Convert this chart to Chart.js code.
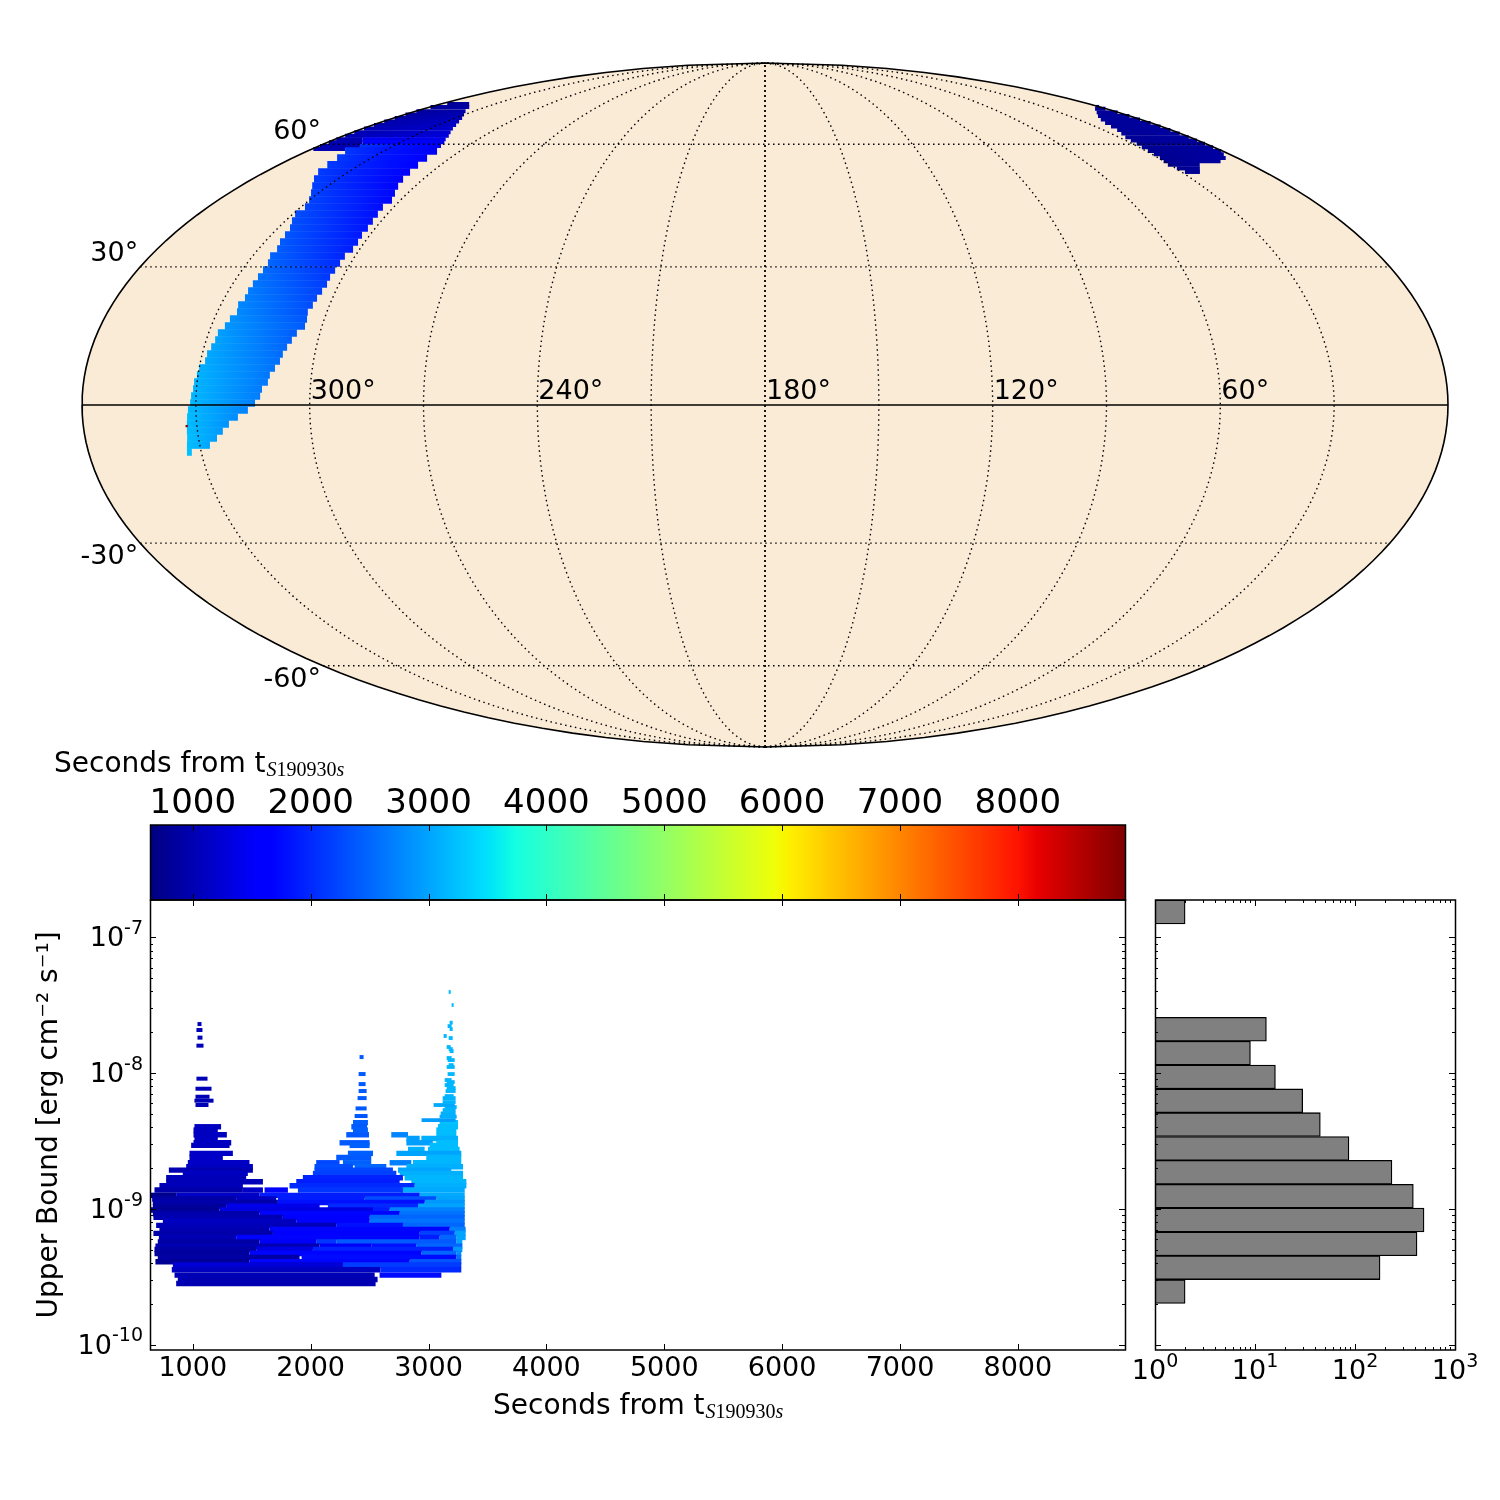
<!DOCTYPE html>
<html>
<head>
<meta charset="utf-8">
<script src="https://cdn.jsdelivr.net/npm/chart.js@4"></script>
<style>
    html, body { margin: 0; padding: 0; background: #fff; width: 1500px; height: 1500px; overflow: hidden; }
</style>
</head>
<body>
<canvas id="mapa" width="1500" height="770" style="position:absolute;left:0px;top:0px"></canvas>
<canvas id="barraCores" width="1500" height="170" style="position:absolute;left:0px;top:740px"></canvas>
<canvas id="dispersao" width="1140" height="640" style="position:absolute;left:0px;top:860px"></canvas>
<canvas id="histograma" width="400" height="640" style="position:absolute;left:1100px;top:860px"></canvas>
<script>
// ---- dados ----
const tempoMin = 637;
const tempoMax = 8909;
const ticksTempo = [1000, 2000, 3000, 4000, 5000, 6000, 7000, 8000];
const decadasFluxo = [-7, -8, -9, -10];
const decadasContagem = [0, 1, 2, 3];
const meridianos = [30, 60, 90, 120, 150, 210, 240, 270, 300, 330];
const paralelos = [-60, -30, 30, 60];
const rotulosLon = [300, 240, 180, 120, 60];
const rotulosLat = [60, 30, -30, -60];

// mancha do ceu: [lat, lon esquerda, lon direita, tempo esquerda, tempo direita]
const faixasOeste = [
    [-10.04, 333.8, 332.5, 3250, 3200], [-8.55, 333.4, 327.3, 3230, 3000], [-7.04, 333.0, 325.1, 3230, 2950],
    [-5.55, 332.8, 323.3, 3220, 2900], [-4.06, 332.6, 321.5, 3200, 2850], [-2.56, 332.4, 319.0, 3200, 2800],
    [-1.07, 332.1, 316.3, 3180, 2730], [0.43, 331.5, 314.4, 3170, 2700], [1.92, 331.3, 313.1, 3160, 2680],
    [3.41, 330.9, 312.7, 3150, 2660], [4.91, 330.8, 311.3, 3140, 2640], [6.40, 330.3, 311.0, 3120, 2620],
    [7.90, 330.0, 309.9, 3100, 2600], [9.40, 328.8, 308.9, 3050, 2560], [10.9, 328.7, 308.5, 3040, 2530],
    [12.41, 328.1, 307.8, 3020, 2500], [13.92, 327.6, 307.0, 3000, 2450], [15.43, 327.5, 306.2, 2960, 2420],
    [16.95, 326.3, 304.6, 2900, 2400], [18.47, 325.7, 304.7, 2860, 2350], [19.99, 324.6, 305.2, 2800, 2300],
    [21.52, 325.2, 304.6, 2780, 2280], [23.07, 324.3, 304.3, 2720, 2240], [24.61, 324.5, 303.8, 2680, 2200],
    [26.16, 324.3, 303.4, 2640, 2150], [27.72, 324.1, 303.6, 2600, 2100], [29.29, 324.0, 303.3, 2550, 2050],
    [30.87, 324.0, 303.1, 2500, 2000], [32.45, 324.9, 303.0, 2480, 1950], [34.06, 324.5, 302.0, 2430, 1900],
    [35.67, 325.4, 302.0, 2400, 1880], [37.29, 325.8, 302.4, 2370, 1850], [38.92, 326.3, 302.3, 2340, 1830],
    [40.57, 327.9, 302.6, 2320, 1800], [42.24, 329.3, 303.0, 2300, 1780], [43.92, 328.7, 303.5, 2250, 1750],
    [45.61, 330.1, 302.8, 2220, 1700], [47.35, 332.5, 304.3, 2200, 1700], [49.09, 335.4, 305.9, 2180, 1680],
    [50.85, 338.4, 307.1, 2170, 1650], [52.63, 340.9, 307.8, 2160, 1620], [54.47, 342.0, 308.4, 2150, 1600],
    [56.30, 343.1, 308.8, 2140, 1550], [58.17, 345.3, 309.1, 2120, 1500]
];
// topo da mancha, linhas mais finas junto a borda
const faixasTopo = [
    [59.5, 343.4, 310.7, 2100, 1500], [60.55, 345.7, 312.0, 1700, 1450], [61.4, 348.5, 313.7, 1450, 1400],
    [58.7, 359.5, 346.9, 1000, 1000], [59.5, 359.5, 343.4, 1000, 1000], [60.55, 359.5, 345.7, 1000, 1000], [61.4, 359.5, 348.5, 1000, 1000],
    [62.4, 359.5, 315.2, 1000, 1300], [63.4, 359.5, 317.4, 1000, 1250], [64.45, 359.5, 319.7, 1000, 1200],
    [65.5, 359.5, 321.8, 950, 1150], [66.55, 359.5, 324.2, 950, 1100], [67.6, 359.5, 326.8, 900, 1050],
    [68.65, 359.5, 330.3, 880, 1000], [69.7, 359.5, 334.2, 860, 950], [71.0, 359.5, 338.7, 850, 900],
    [72.0, 356.4, 344.2, 800, 850]
];
const faixasLeste = [
    [71.05, 2.2, 0.4, 800, 800], [70.47, 5.9, 0.4, 810, 810], [69.33, 11.1, 0.4, 820, 820], [68.2, 15.9, 0.4, 830, 830],
    [67.15, 19.2, 0.4, 830, 840], [66.08, 21.6, 0.4, 830, 840], [65.05, 22.9, 0.4, 820, 850], [64.0, 24.0, 0.4, 820, 850],
    [62.99, 25.7, 0.4, 810, 860], [61.98, 27.3, 0.4, 800, 860], [61.05, 27.9, 0.4, 790, 860], [60.11, 28.3, 0.4, 780, 870],
    [59.15, 29.0, 0.4, 770, 870], [58.17, 29.3, 0.4, 770, 880], [57.25, 29.4, 2.3, 760, 880], [56.30, 29.5, 4.4, 760, 880],
    [55.4, 30.3, 8.9, 760, 870], [54.47, 30.9, 19.1, 760, 800], [53.55, 29.7, 21.3, 770, 790], [52.63, 28.8, 23.4, 770, 780]
];
const pixelIsolado = [332.7, -4.5, 8900];

// tiras do limite superior: [log10 fluxo, inicio, fim, tempo da cor]
const tirasBase = [
    [-9.548, 859, 2551, 1000], [-9.518, 873, 2568, 1000],
    [-9.486, 845, 2543, 1020], [-9.486, 2585, 3109, 1750],
    [-9.447, 822, 2591, 1100], [-9.447, 2591, 3278, 2000],
    [-9.412, 831, 2274, 1250], [-9.412, 2274, 3278, 2150],
    [-9.388, 683, 1481, 800], [-9.388, 1481, 2840, 1700], [-9.388, 2840, 3278, 2350],
    [-9.356, 703, 1906, 900], [-9.356, 1923, 3236, 1750], [-9.356, 3236, 3278, 2600],
    [-9.327, 675, 1481, 850], [-9.327, 1481, 2939, 1700], [-9.327, 2939, 3236, 2500], [-9.327, 3236, 3278, 2800],
    [-9.297, 675, 1538, 900], [-9.297, 1538, 2019, 1350], [-9.297, 2019, 3208, 1950], [-9.297, 3208, 3287, 2900],
    [-9.273, 683, 2076, 1000], [-9.273, 2076, 2514, 1500], [-9.273, 2514, 2896, 1800], [-9.273, 2896, 3287, 2500],
    [-9.241, 703, 1566, 900], [-9.241, 1566, 2047, 1500], [-9.241, 2047, 2217, 2100], [-9.241, 2217, 3236, 2400], [-9.241, 3236, 3287, 3000],
    [-9.209, 712, 1368, 1000], [-9.209, 1368, 2925, 1700], [-9.209, 2925, 3094, 1900], [-9.209, 3094, 3236, 2500], [-9.209, 3236, 3315, 3000],
    [-9.179, 666, 1680, 950], [-9.179, 1680, 2925, 1600], [-9.179, 2925, 3222, 2200], [-9.179, 3222, 3315, 3000],
    [-9.150, 717, 1651, 1000], [-9.150, 1651, 3179, 1700], [-9.150, 3179, 3315, 2700],
    [-9.120, 689, 2217, 1050], [-9.120, 2217, 2783, 1800], [-9.120, 2783, 3307, 2500],
    [-9.091, 746, 1878, 1100], [-9.091, 1878, 2500, 1650], [-9.091, 2500, 3307, 2600],
    [-9.061, 666, 1764, 1000], [-9.061, 1764, 2500, 1600], [-9.061, 2500, 3307, 2500],
    [-9.034, 661, 1566, 950], [-9.034, 1566, 2755, 1700], [-9.034, 2755, 3307, 2600],
    [-9.007, 638, 1227, 800], [-9.007, 1227, 2529, 1350], [-9.007, 2529, 2670, 1900], [-9.007, 2670, 3307, 2700],
    [-8.978, 661, 1283, 850], [-8.978, 1283, 2076, 1400], [-8.978, 2146, 2911, 2000], [-8.978, 2911, 3307, 3000],
    [-8.951, 661, 1722, 950], [-8.951, 1722, 2967, 1800], [-8.951, 2967, 3307, 2900],
    [-8.926, 655, 1368, 900], [-8.926, 1368, 1708, 1100], [-8.926, 1722, 2458, 1900], [-8.926, 2458, 3066, 2300], [-8.926, 3066, 3307, 3000],
    [-8.899, 638, 859, 750], [-8.899, 859, 1566, 1150], [-8.899, 1566, 2925, 1900], [-8.899, 2925, 3307, 3050],
    [-8.860, 675, 1425, 950], [-8.860, 1425, 1595, 1150], [-8.860, 1609, 1807, 1700], [-8.860, 1892, 2783, 2100], [-8.860, 2769, 3307, 3050],
    [-8.828, 717, 1425, 1050], [-8.828, 1821, 2882, 2000], [-8.828, 2882, 3321, 3100],
    [-8.799, 774, 1595, 1050], [-8.799, 1878, 2755, 1900], [-8.799, 2854, 3321, 3150],
    [-8.769, 774, 1453, 1050], [-8.769, 1934, 2783, 1950], [-8.769, 2797, 3293, 3150],
    [-8.737, 915, 1467, 1100], [-8.737, 2019, 2727, 2200], [-8.737, 2755, 3293, 3100],
    [-8.713, 797, 1510, 1000], [-8.713, 2033, 2698, 2250], [-8.713, 2741, 3193, 3000],
    [-8.688, 944, 1510, 1100], [-8.688, 2033, 2359, 2300], [-8.688, 2373, 2642, 2500], [-8.688, 2812, 3293, 3100],
    [-8.659, 958, 1481, 1150], [-8.659, 2047, 2245, 2250], [-8.659, 2274, 2514, 2450], [-8.659, 2670, 2854, 2700], [-8.659, 2868, 3278, 3150],
    [-8.620, 972, 1255, 1150], [-8.620, 2217, 2514, 2400], [-8.620, 2981, 3278, 3150],
    [-8.590, 972, 1340, 1150], [-8.590, 2316, 2529, 2450], [-8.590, 2727, 3278, 3000],
    [-8.561, 2826, 2967, 3100], [-8.561, 2995, 3264, 3200],
    [-8.531, 986, 1312, 1100], [-8.531, 2330, 2500, 2450], [-8.531, 3010, 3250, 3200],
    [-8.512, 1006, 1326, 1100], [-8.512, 2245, 2500, 2400], [-8.512, 2812, 3036, 2950], [-8.512, 3066, 3250, 3200],
    [-8.480, 1014, 1212, 1100], [-8.480, 2812, 2925, 2950], [-8.480, 2939, 3250, 3100],
    [-8.453, 1006, 1289, 1100], [-8.453, 2302, 2495, 2400], [-8.453, 2684, 2826, 2750], [-8.453, 3066, 3236, 3200],
    [-8.418, 1006, 1212, 1100], [-8.418, 2359, 2486, 2450], [-8.418, 3066, 3236, 3200],
    [-8.394, 1014, 1240, 1100], [-8.394, 2345, 2478, 2400], [-8.394, 3080, 3250, 3200],
    [-8.364, 2359, 2486, 2450], [-8.364, 3094, 3250, 3250]
];
// picos: [log10 fluxo, inicio, fim], a cor segue o inicio
const picoInicial = [
    [-7.638, 1040, 1074], [-7.682, 1031, 1082], [-7.738, 1040, 1082], [-7.797, 1031, 1091],
    [-8.040, 1031, 1125], [-8.114, 1023, 1159], [-8.173, 1023, 1142], [-8.202, 1014, 1176], [-8.234, 1023, 1133]
];
const picoMeio = [
    [-7.881, 2415, 2449], [-8.006, 2407, 2466], [-8.080, 2407, 2466], [-8.131, 2407, 2475],
    [-8.183, 2398, 2475], [-8.259, 2381, 2475], [-8.315, 2373, 2483]
];
const picoFinal = [
    [-7.402, 3171, 3188], [-7.498, 3196, 3213], [-7.628, 3179, 3205], [-7.653, 3162, 3196], [-7.675, 3179, 3205],
    [-7.726, 3128, 3154], [-7.741, 3171, 3205], [-7.807, 3154, 3188], [-7.822, 3171, 3205], [-7.837, 3179, 3213],
    [-7.888, 3154, 3196], [-7.903, 3162, 3222], [-7.940, 3171, 3213], [-7.954, 3154, 3222], [-8.006, 3162, 3222],
    [-8.050, 3137, 3196], [-8.065, 3154, 3222], [-8.087, 3137, 3213], [-8.109, 3154, 3230], [-8.131, 3145, 3230],
    [-8.168, 3137, 3213], [-8.183, 3120, 3230], [-8.212, 3120, 3230], [-8.234, 3043, 3222], [-8.249, 3137, 3239],
    [-8.271, 3120, 3230], [-8.296, 3103, 3230], [-8.320, 3094, 3239], [-8.345, 2941, 3230]
];

// histograma: centro do intervalo (log10 fluxo) e contagem
const binsHistograma = [-6.813, -7.676, -7.852, -8.027, -8.203, -8.378, -8.554, -8.729, -8.905, -9.080, -9.256, -9.431, -9.607];
const contagens = [2, 13, 9, 16, 30, 45, 87, 234, 383, 490, 417, 178, 2];

// mapa de cores jet, como pares [posicao, valor]
const jetR = [[0, 0], [0.35, 0], [0.66, 1], [0.89, 1], [1, 0.5]];
const jetG = [[0, 0], [0.125, 0], [0.375, 1], [0.64, 1], [0.91, 0], [1, 0]];
const jetB = [[0, 0.5], [0.11, 1], [0.34, 1], [0.65, 0], [1, 0]];

const FONTE = '"DejaVu Sans"';

function canalJet(pares, t) {
    for (let i = 1; i < pares.length; i++) {
        if (t <= pares[i][0]) {
            const [t0, v0] = pares[i - 1];
            const [t1, v1] = pares[i];
            return v0 + (v1 - v0) * (t - t0) / (t1 - t0);
        }
    }
    return pares[pares.length - 1][1];
}

function corJet(t) {
    const c = v => Math.round(v * 255);
    return `rgb(${c(canalJet(jetR, t))},${c(canalJet(jetG, t))},${c(canalJet(jetB, t))})`;
}

function corTempo(segundos) {
    return corJet(Math.min(1, Math.max(0, (segundos - tempoMin) / (tempoMax - tempoMin))));
}

// projecao de Mollweide centrada em 180, longitude cresce para a esquerda
function projetar(lon, lat) {
    const alvo = Math.PI * Math.sin(lat * Math.PI / 180);
    let a = -Math.PI / 2, b = Math.PI / 2;
    for (let i = 0; i < 40; i++) {
        const m = (a + b) / 2;
        if (2 * m + Math.sin(2 * m) < alvo) a = m; else b = m;
    }
    const teta = (a + b) / 2;
    return { x: -(lon - 180) / 90 * Math.cos(teta), y: Math.sin(teta) };
}

function logaritmicos(decadas) {
    const menores = [];
    decadas.forEach(d => {
        for (let m = 2; m <= 9; m++) menores.push(m * Math.pow(10, d));
    });
    return menores;
}

// caixa preta com marcas para dentro, nos quatro lados
function pluginMoldura(marcasX, marcasY) {
    return {
        id: 'moldura',
        afterDatasetsDraw(chart) {
            const { ctx, chartArea: a } = chart;
            ctx.save();
            ctx.strokeStyle = '#000';
            ctx.lineWidth = 1;
            ctx.beginPath();
            marcasX.forEach(([eixo, valor, tam]) => {
                const x = Math.round(chart.scales[eixo].getPixelForValue(valor)) + 0.5;
                if (x < a.left || x > a.right) return;
                ctx.moveTo(x, a.top); ctx.lineTo(x, a.top + tam);
                ctx.moveTo(x, a.bottom); ctx.lineTo(x, a.bottom - tam);
            });
            marcasY.forEach(([eixo, valor, tam]) => {
                const y = Math.round(chart.scales[eixo].getPixelForValue(valor)) + 0.5;
                if (y < a.top || y > a.bottom) return;
                ctx.moveTo(a.left, y); ctx.lineTo(a.left + tam, y);
                ctx.moveTo(a.right, y); ctx.lineTo(a.right - tam, y);
            });
            ctx.stroke();
            ctx.lineWidth = 1.5;
            ctx.strokeRect(a.left + 0.5, a.top, a.right - a.left, a.bottom - a.top);
            ctx.restore();
        }
    };
}

// rotulos 10^n com o expoente menor e levantado
function escreverPotencia(ctx, expoente, x, y, centrado) {
    const exp = String(expoente);
    ctx.save();
    ctx.fillStyle = '#000';
    ctx.textBaseline = 'alphabetic';
    ctx.textAlign = 'left';
    ctx.font = `27px ${FONTE}`;
    const largBase = ctx.measureText('10').width;
    ctx.font = `19px ${FONTE}`;
    const largExp = ctx.measureText(exp).width;
    const inicio = centrado ? x - (largBase + largExp) / 2 : x - largBase - largExp;
    ctx.fillText(exp, inicio + largBase, y - 12.5);
    ctx.font = `27px ${FONTE}`;
    ctx.fillText('10', inicio, y);
    ctx.restore();
}

function escreverComIndice(ctx, x, y) {
    ctx.save();
    ctx.fillStyle = '#000';
    ctx.textAlign = 'left';
    ctx.textBaseline = 'alphabetic';
    ctx.font = `28px ${FONTE}`;
    const base = 'Seconds from t';
    ctx.fillText(base, x, y);
    let cx = x + ctx.measureText(base).width + 1;
    [['italic', 'S'], ['normal', '190930'], ['italic', 's']].forEach(([estilo, texto]) => {
        ctx.font = `${estilo} 20px "Liberation Serif"`;
        ctx.fillText(texto, cx, y + 4);
        cx += ctx.measureText(texto).width;
    });
    ctx.restore();
}

function semExtras() {
    return { legend: { display: false }, tooltip: { enabled: false }, title: { display: false } };
}

// ---- mapa ----
function linhaMapa(pontos, extra) {
    return Object.assign({
        data: pontos, showLine: true, pointRadius: 0, borderColor: '#000', borderWidth: 1,
        clip: false, fill: false, tension: 0
    }, extra);
}

function faixaMapa(largura) {
    return ([lat, lonE, lonD, tE, tD]) => {
        const e = projetar(lonE, lat);
        const d = projetar(lonD, lat);
        return {
            data: [e, d], showLine: true, pointRadius: 0, borderWidth: largura, borderCapStyle: 'butt', fill: false,
            borderColor(c) {
                const esc = c.chart.scales;
                if (!esc || !esc.x || !c.chart.chartArea) return corTempo(tE);
                const g = c.chart.ctx.createLinearGradient(esc.x.getPixelForValue(e.x), 0, esc.x.getPixelForValue(d.x), 0);
                g.addColorStop(0, corTempo(tE));
                g.addColorStop(0.5, corTempo((tE + tD) / 2));
                g.addColorStop(1, corTempo(tD));
                return g;
            }
        };
    };
}

function latitudes(lon, de, ate, passo) {
    const p = [];
    for (let lat = de; passo > 0 ? lat <= ate : lat >= ate; lat += passo) p.push(projetar(lon, lat));
    return p;
}

function longitudes(lat) {
    const p = [];
    for (let lon = 360; lon >= 0; lon -= 10) p.push(projetar(lon, lat));
    return p;
}

const bordaNorte = latitudes(360, 0, 90, 2).concat(latitudes(0, 90, 0, -2));
const bordaSul = latitudes(360, 0, -90, -2).concat(latitudes(0, -90, 0, 2));
const tracoGrade = { borderDash: [1.5, 3.5], borderWidth: 1.4 };

new Chart(document.getElementById('mapa'), {
    type: 'scatter',
    data: {
        datasets: [
            linhaMapa(bordaNorte, { borderWidth: 1.6 }),
            linhaMapa(bordaSul, { borderWidth: 1.6 }),
            linhaMapa(longitudes(0), { borderWidth: 1.6 }),
            linhaMapa(latitudes(180, -90, 90, 2), { borderDash: [2, 3], borderWidth: 1.8 }),
            ...meridianos.map(lon => linhaMapa(latitudes(lon, -90, 90, 2), tracoGrade)),
            ...paralelos.map(lat => linhaMapa(longitudes(lat), tracoGrade)),
            { data: [projetar(pixelIsolado[0], pixelIsolado[1])], pointStyle: 'rect', pointRadius: 1.6, borderWidth: 0, backgroundColor: corTempo(pixelIsolado[2]) },
            ...faixasOeste.map(faixaMapa(7.6)),
            ...faixasTopo.map(faixaMapa(4)),
            ...faixasLeste.map(faixaMapa(4)),
            linhaMapa(bordaNorte, { borderWidth: 0, fill: 'origin', backgroundColor: '#faebd7' }),
            linhaMapa(bordaSul, { borderWidth: 0, fill: 'origin', backgroundColor: '#faebd7' })
        ]
    },
    options: {
        responsive: false,
        animation: false,
        layout: { autoPadding: false, padding: { left: 82, right: 52, top: 63, bottom: 23 } },
        plugins: semExtras(),
        scales: {
            x: { type: 'linear', display: false, min: -2, max: 2 },
            y: { type: 'linear', display: false, min: -1, max: 1 }
        }
    },
    plugins: [{
        id: 'rotulosMapa',
        afterDatasetsDraw(chart) {
            const { ctx, scales } = chart;
            ctx.save();
            ctx.fillStyle = '#000';
            ctx.font = `27px ${FONTE}`;
            ctx.textBaseline = 'alphabetic';
            ctx.textAlign = 'left';
            rotulosLon.forEach(lon => {
                const p = projetar(lon, 0);
                ctx.fillText(`${lon}°`, scales.x.getPixelForValue(p.x) + 1, scales.y.getPixelForValue(p.y) - 6.5);
            });
            ctx.textAlign = 'right';
            rotulosLat.forEach(lat => {
                const p = projetar(360, lat);
                const y = scales.y.getPixelForValue(p.y);
                ctx.fillText(`${lat}°`, scales.x.getPixelForValue(p.x) - 2, lat > 0 ? y - 5.5 : y + 21);
            });
            ctx.restore();
        }
    }]
});

// ---- barra de cores ----
new Chart(document.getElementById('barraCores'), {
    type: 'bar',
    data: {
        labels: [''],
        datasets: [{
            data: [[tempoMin, tempoMax]],
            barPercentage: 1,
            categoryPercentage: 1,
            borderWidth: 0,
            backgroundColor(c) {
                const area = c.chart.chartArea;
                if (!area) return '#000';
                const g = c.chart.ctx.createLinearGradient(area.left, 0, area.right, 0);
                for (let i = 0; i <= 200; i++) g.addColorStop(i / 200, corJet(i / 200));
                return g;
            }
        }]
    },
    options: {
        indexAxis: 'y',
        responsive: false,
        animation: false,
        layout: { autoPadding: false, padding: { left: 150, right: 375, top: 30, bottom: 10 } },
        plugins: semExtras(),
        scales: {
            x: {
                type: 'linear', position: 'top', min: tempoMin, max: tempoMax,
                grid: { display: false, drawTicks: false }, border: { display: false },
                afterFit: s => { s.height = 55; },
                afterBuildTicks: s => { s.ticks = ticksTempo.map(v => ({ value: v })); },
                ticks: { color: '#000', font: { family: 'DejaVu Sans', size: 34 }, padding: 0, autoSkip: false, maxRotation: 0, callback: v => String(v) }
            },
            y: { type: 'category', display: false }
        }
    },
    plugins: [
        pluginMoldura(ticksTempo.map(v => ['x', v, 6]), []),
        { id: 'tituloBarra', afterDraw(chart) { escreverComIndice(chart.ctx, 54, 32); } }
    ]
});

// ---- dispersao ----
function tira(exp, ini, fim, cor, largura) {
    return {
        data: [{ x: ini, y: Math.pow(10, exp) }, { x: fim, y: Math.pow(10, exp) }],
        showLine: true, pointRadius: 0, borderWidth: largura, borderCapStyle: 'butt',
        borderColor: corTempo(cor), fill: false
    };
}

new Chart(document.getElementById('dispersao'), {
    type: 'scatter',
    data: {
        datasets: [
            ...picoInicial.map(([e, i, f]) => tira(e, i, f, i, 4)),
            ...picoMeio.map(([e, i, f]) => tira(e, i, f, i, 4)),
            ...picoFinal.map(([e, i, f]) => tira(e, i, f, i, 3.8)),
            ...tirasBase.map(([e, i, f, c]) => tira(e, i, f, c, 5.4))
        ]
    },
    options: {
        responsive: false,
        animation: false,
        layout: { autoPadding: false, padding: { left: 0, right: 15, top: 40, bottom: 60 } },
        plugins: semExtras(),
        scales: {
            x: {
                type: 'linear', min: tempoMin, max: tempoMax,
                grid: { display: false, drawTicks: false }, border: { display: false },
                afterFit: s => { s.height = 90; },
                afterBuildTicks: s => { s.ticks = ticksTempo.map(v => ({ value: v })); },
                ticks: { color: '#000', font: { family: 'DejaVu Sans', size: 27 }, padding: 3, autoSkip: false, maxRotation: 0, callback: v => String(v) }
            },
            y: {
                type: 'logarithmic', min: 9.18e-11, max: 1.884e-7,
                grid: { display: false, drawTicks: false }, border: { display: false },
                afterFit: s => { s.width = 150; },
                title: { display: true, text: 'Upper Bound [erg cm⁻² s⁻¹]', color: '#000', font: { family: 'DejaVu Sans', size: 28 }, padding: { top: 33, bottom: 0 } },
                ticks: { display: false }
            }
        }
    },
    plugins: [
        pluginMoldura(
            ticksTempo.map(v => ['x', v, 6]),
            decadasFluxo.map(d => ['y', Math.pow(10, d), 6]).concat(logaritmicos([-11, -10, -9, -8, -7]).map(v => ['y', v, 3]))
        ),
        {
            id: 'rotulosFluxo',
            afterDraw(chart) {
                decadasFluxo.forEach(d => {
                    const y = chart.scales.y.getPixelForValue(Math.pow(10, d));
                    escreverPotencia(chart.ctx, d, chart.chartArea.left - 7, y + 9, false);
                });
                escreverComIndice(chart.ctx, 493, 554);
            }
        }
    ]
});

// ---- histograma ----
new Chart(document.getElementById('histograma'), {
    type: 'bar',
    data: {
        datasets: [{
            data: contagens.map((c, i) => ({ x: c, y: binsHistograma[i] })),
            backgroundColor: '#808080',
            borderColor: '#000',
            borderWidth: 1.3,
            barPercentage: 1,
            categoryPercentage: 1
        }]
    },
    options: {
        indexAxis: 'y',
        responsive: false,
        animation: false,
        layout: { autoPadding: false, padding: { left: 55, right: 45, top: 40, bottom: 60 } },
        plugins: semExtras(),
        scales: {
            x: {
                type: 'logarithmic', min: 1, max: 1000,
                grid: { display: false, drawTicks: false }, border: { display: false },
                afterFit: s => { s.height = 90; },
                ticks: { display: false }
            },
            y: { type: 'linear', display: false, offset: false, min: -10.037, max: -6.725 }
        }
    },
    plugins: [
        pluginMoldura(
            decadasContagem.map(d => ['x', Math.pow(10, d), 6]).concat(logaritmicos([0, 1, 2]).map(v => ['x', v, 3])),
            decadasFluxo.map(d => ['y', d, 6]).concat(logaritmicos([-11, -10, -9, -8, -7]).map(v => ['y', Math.log10(v), 3]))
        ),
        {
            id: 'rotulosContagem',
            afterDraw(chart) {
                decadasContagem.forEach(d => {
                    const x = chart.scales.x.getPixelForValue(Math.pow(10, d));
                    escreverPotencia(chart.ctx, d, x, chart.chartArea.bottom + 29, true);
                });
            }
        }
    ]
});
</script>
</body>
</html>
